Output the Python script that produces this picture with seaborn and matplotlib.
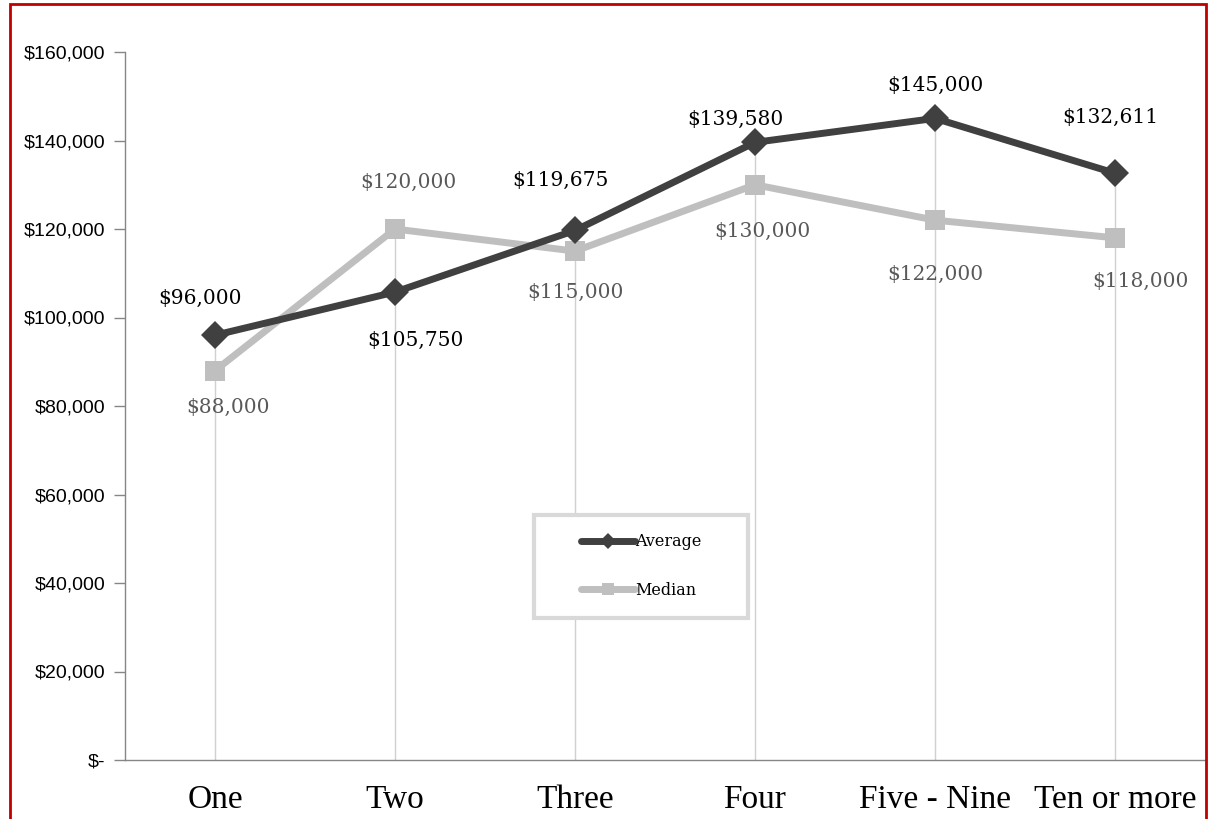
import numpy as np
import pandas as pd
import matplotlib
matplotlib.use("Agg")
import matplotlib.pyplot as plt
import seaborn as sns
from matplotlib.patches import Rectangle

# Chart data
categories = ["One", "Two", "Three", "Four", "Five - Nine", "Ten or more"]
average = [96000, 105750, 119675, 139580, 145000, 132611]
median = [88000, 120000, 115000, 130000, 122000, 118000]

sns.set_style("white")
plt.rcParams["font.family"] = ["Liberation Serif", "DejaVu Serif"]
plt.rcParams["text.color"] = "black"
plt.rcParams["xtick.color"] = "black"
plt.rcParams["ytick.color"] = "black"

df = pd.DataFrame({"Category": categories, "Average": average, "Median": median})
x = np.arange(len(categories))

fig = plt.figure(figsize=(12.11, 8.19), dpi=100)
ax = fig.add_axes([125 / 1211, 1 - 760 / 819, 1080 / 1211, 708 / 819])

# drop lines from the higher point to the axis
ax.vlines(x, 0, df[["Average", "Median"]].max(axis=1), color="#d0d0d0", lw=1, zorder=1)

sns.lineplot(x=x, y=df["Median"], ax=ax, color="#BFBFBF", lw=5, marker="s",
             markersize=15, markeredgewidth=0, label="Median", zorder=3)
sns.lineplot(x=x, y=df["Average"], ax=ax, color="#404040", lw=5, marker="D",
             markersize=14, markeredgewidth=0, label="Average", zorder=4)

# data labels (pixel offsets)
avg_off = [(-15, 37), (20, -48), (-15, 50), (-20, 23), (0, 33), (-5, 56)]
med_off = [(13, -37), (13, 47), (0, -41), (7, -47), (0, -54), (25, -44)]
lab_font = ["DejaVu Serif"]
for i in range(len(categories)):
    ax.annotate(f"${average[i]:,}", (x[i], average[i]), xytext=avg_off[i],
                textcoords="offset pixels", ha="center", va="center",
                fontsize=14.5, color="#000000", family=lab_font)
    ax.annotate(f"${median[i]:,}", (x[i], median[i]), xytext=med_off[i],
                textcoords="offset pixels", ha="center", va="center",
                fontsize=14.5, color="#595959", family=lab_font)

ax.set_xlim(-0.5, len(categories) - 0.5)
ax.set_ylim(0, 160000)
ax.set_yticks(np.arange(0, 160001, 20000))
ax.set_yticklabels(["$-" if v == 0 else f"${v:,}" for v in range(0, 160001, 20000)],
                   family=["Liberation Sans", "DejaVu Sans"], fontsize=14)
ax.set_xticks(x)
ax.set_xticklabels(categories, fontsize=24)
ax.set_xticks(np.arange(-0.5, len(categories)), minor=True)
ax.tick_params(axis="x", which="major", length=0, pad=18)
ax.tick_params(axis="x", which="minor", length=9, width=1, color="#868686", direction="out")
ax.tick_params(axis="y", length=8, width=1, color="#868686", direction="out", left=True, pad=6)
ax.set_xlabel("")
ax.set_ylabel("")

for s in ["top", "right"]:
    ax.spines[s].set_visible(False)
for s in ["left", "bottom"]:
    ax.spines[s].set_color("#868686")
    ax.spines[s].set_linewidth(1)

h, l = ax.get_legend_handles_labels()
leg = ax.legend(h[::-1], l[::-1], loc="center", bbox_to_anchor=(0.478, 0.274),
                prop={"family": "DejaVu Serif", "size": 11.5}, handlelength=3.4,
                handletextpad=0.0, labelspacing=1.95, borderpad=1.0, borderaxespad=0,
                markerscale=0.55, frameon=False)
for t in leg.get_texts():
    t.set_color("#000000")
# wider legend box drawn separately
ax.add_patch(Rectangle((0.3787, 0.2006), 0.1982, 0.1454, transform=ax.transAxes,
                       facecolor="white", edgecolor="#D9D9D9", lw=3, zorder=5))
leg.set_zorder(6)

# red border round the chart
fig.patches.append(Rectangle((10 / 1211, -0.05), 1196 / 1211, 1.05 - 4 / 819,
                             transform=fig.transFigure, fill=False,
                             edgecolor="#C00000", lw=2))

fig.savefig("out.png", dpi=100)
